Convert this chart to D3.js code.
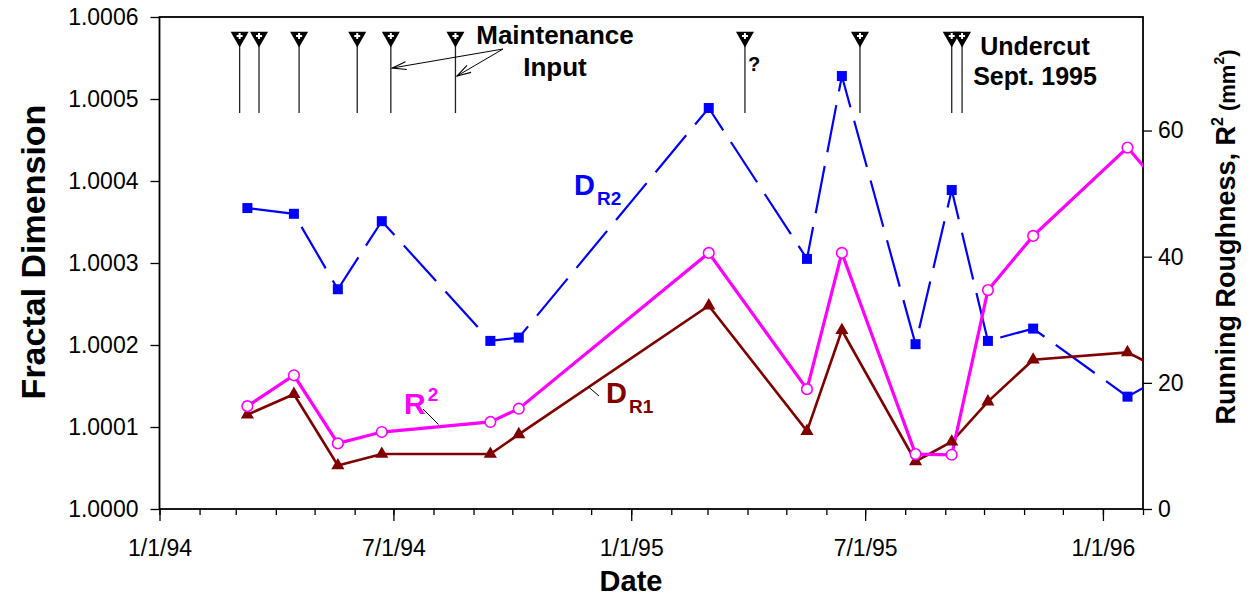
<!DOCTYPE html>
<html>
<head>
<meta charset="utf-8">
<script src="https://cdn.jsdelivr.net/npm/d3@7"></script>
<style>
  html, body { margin: 0; padding: 0; background: #fff; }
  svg { display: block; }
  text { font-family: "Liberation Sans", Arial, Helvetica, sans-serif; }
</style>
</head>
<body>
<svg id="chart" width="1251" height="601"></svg>
<script>
// ---- Data -----------------------------------------------------------
// Survey dates (the last one lies just past the plotted range and is clipped)
const sampleDates = [
  "1994-03-10", "1994-04-15", "1994-05-19", "1994-06-22", "1994-09-14", "1994-10-06",
  "1995-03-02", "1995-05-17", "1995-06-13", "1995-08-09", "1995-09-06", "1995-10-04",
  "1995-11-08", "1996-01-20", "1996-02-15"
];
// Fractal dimension from R2 method (left axis)
const dR2 = [
  1.000367, 1.000360, 1.000268, 1.000351, 1.000205, 1.000209,
  1.000489, 1.000305, 1.000528, 1.000201, 1.000389, 1.000205,
  1.000220, 1.000137, 1.000160
];
// Fractal dimension from R1 method (left axis)
const dR1 = [
  1.000115, 1.000140, 1.000053, 1.000067, 1.000067, 1.000091,
  1.000248, 1.000095, 1.000218, 1.000058, 1.000082, 1.000131,
  1.000182, 1.000191, 1.000170
];
// Running roughness R^2 in mm^2 (right axis)
const roughness = [
  16.3, 21.2, 10.4, 12.2, 13.8, 15.9,
  40.6, 19.0, 40.6, 8.7, 8.6, 34.7,
  43.3, 57.3, 51.1
];
// Maintenance events (index 6 is uncertain)
const maintenanceDates = [
  "1994-03-04", "1994-03-19", "1994-04-19", "1994-06-03", "1994-06-29", "1994-08-18",
  "1995-03-30", "1995-06-27", "1995-09-06", "1995-09-14"
];
const uncertainMaintenance = [6];
// Axis ticks
const xTickDates = ["1994-01-01", "1994-07-01", "1995-01-01", "1995-07-01", "1996-01-01"];
const xTickLabels = ["1/1/94", "7/1/94", "1/1/95", "7/1/95", "1/1/96"];
const leftTicks = [1.0000, 1.0001, 1.0002, 1.0003, 1.0004, 1.0005, 1.0006];
const leftTickLabels = ["1.0000", "1.0001", "1.0002", "1.0003", "1.0004", "1.0005", "1.0006"];
const rightTicks = [0, 20, 40, 60];

// ---- Layout ---------------------------------------------------------
const plot = { left: 159.5, right: 1143, top: 17, bottom: 509 };
const parse = d3.utcParse("%Y-%m-%d");

const svg = d3.select("#chart");

const x = d3.scaleUtc()
  .domain([parse("1994-01-01"), parse("1996-02-01")])
  .range([plot.left, plot.right]);
const yL = d3.scaleLinear().domain([1.0, 1.0006]).range([plot.bottom, plot.top]);
const yR = d3.scaleLinear().domain([0, 78]).range([plot.bottom, plot.top]);

const rows = sampleDates.map((d, i) => ({
  date: parse(d), dR2: dR2[i], dR1: dR1[i], r2: roughness[i]
}));

const defs = svg.append("defs");
defs.append("clipPath").attr("id", "plotClip")
  .append("rect")
  .attr("x", plot.left).attr("y", plot.top)
  .attr("width", plot.right - plot.left).attr("height", plot.bottom - plot.top);

// arrowhead for the annotation pointers
defs.append("marker")
  .attr("id", "openArrow")
  .attr("viewBox", "0 0 16 10")
  .attr("refX", 15).attr("refY", 5)
  .attr("markerWidth", 16).attr("markerHeight", 10)
  .attr("markerUnits", "userSpaceOnUse")
  .attr("orient", "auto")
  .append("path")
  .attr("d", "M1,1 L15,5 L1,9")
  .attr("fill", "none").attr("stroke", "#000").attr("stroke-width", 1.1);

// ---- Axes -----------------------------------------------------------
const tickFont = 23;
const styleAxis = g => {
  g.select(".domain").remove();
  g.selectAll("line").attr("stroke", "#000").attr("stroke-width", 1.3);
  g.selectAll("text").attr("font-size", tickFont).attr("fill", "#000")
    .attr("font-family", "'Liberation Sans', Arial, sans-serif");
};

// minor monthly ticks
svg.append("g")
  .attr("transform", `translate(0,${plot.bottom})`)
  .call(d3.axisBottom(x).ticks(d3.utcMonth.every(1)).tickSize(6).tickFormat(""))
  .call(styleAxis);

// major ticks with labels
svg.append("g")
  .attr("transform", `translate(0,${plot.bottom})`)
  .call(d3.axisBottom(x).tickValues(xTickDates.map(parse)).tickSize(12).tickPadding(19)
    .tickFormat((d, i) => xTickLabels[i]))
  .call(styleAxis);

svg.append("g")
  .attr("transform", `translate(${plot.left},0)`)
  .call(d3.axisLeft(yL).tickValues(leftTicks).tickSize(9).tickPadding(12)
    .tickFormat((d, i) => leftTickLabels[i]))
  .call(styleAxis);

svg.append("g")
  .attr("transform", `translate(${plot.right},0)`)
  .call(d3.axisRight(yR).tickValues(rightTicks).tickSize(9).tickPadding(6))
  .call(styleAxis);

// frame
svg.append("rect")
  .attr("x", plot.left).attr("y", plot.top)
  .attr("width", plot.right - plot.left).attr("height", plot.bottom - plot.top)
  .attr("fill", "none").attr("stroke", "#000").attr("stroke-width", 1.8);

// axis titles
svg.append("text")
  .attr("transform", `translate(45,252) rotate(-90)`)
  .attr("text-anchor", "middle")
  .attr("font-size", 34).attr("font-weight", "bold")
  .text("Fractal Dimension");

const rTitle = svg.append("text")
  .attr("transform", `translate(1235,237) rotate(-90)`)
  .attr("text-anchor", "middle")
  .attr("font-weight", "bold").attr("font-size", 27);
rTitle.append("tspan").text("Running Roughness, R");
rTitle.append("tspan").attr("font-size", 16).attr("dy", -12).text("2");
rTitle.append("tspan").attr("font-size", 22).attr("dy", 12).text(" (mm");
rTitle.append("tspan").attr("font-size", 14).attr("dy", -11).text("2");
rTitle.append("tspan").attr("font-size", 22).attr("dy", 11).text(")");

svg.append("text")
  .attr("x", 631).attr("y", 591)
  .attr("text-anchor", "middle")
  .attr("font-size", 29).attr("font-weight", "bold")
  .text("Date");

// ---- Maintenance markers ------------------------------------------
const maint = svg.append("g");
const triSym = d3.symbol().type(d3.symbolTriangle).size(140);
maintenanceDates.forEach((d, i) => {
  const mx = x(parse(d));
  const g = maint.append("g");
  g.append("line")
    .attr("x1", mx).attr("x2", mx).attr("y1", 44).attr("y2", 113)
    .attr("stroke", "#222").attr("stroke-width", 1.3);
  g.append("path")
    .attr("d", triSym())
    .attr("transform", `translate(${mx},37) rotate(180)`)
    .attr("fill", "#000");
  g.append("path")
    .attr("d", d3.symbol().type(d3.symbolCross).size(20)())
    .attr("transform", `translate(${mx},36)`)
    .attr("fill", "#fff");
  if (uncertainMaintenance.includes(i)) {
    g.append("text")
      .attr("x", mx + 3).attr("y", 71)
      .attr("font-size", 20).attr("font-weight", "bold")
      .text("?");
  }
});

// "Maintenance Input" note with pointers
svg.append("text")
  .attr("x", 555).attr("y", 44)
  .attr("text-anchor", "middle").attr("font-size", 26).attr("font-weight", "bold")
  .text("Maintenance");
svg.append("text")
  .attr("x", 555).attr("y", 76)
  .attr("text-anchor", "middle").attr("font-size", 26).attr("font-weight", "bold")
  .text("Input");
const arrowFrom = [503, 49];
[[maintenanceDates[4], 68], [maintenanceDates[5], 76]].forEach(([d, ty]) => {
  svg.append("line")
    .attr("x1", arrowFrom[0]).attr("y1", arrowFrom[1])
    .attr("x2", x(parse(d)) + 1.5).attr("y2", ty)
    .attr("stroke", "#000").attr("stroke-width", 1)
    .attr("marker-end", "url(#openArrow)");
});

svg.append("text")
  .attr("x", 1035).attr("y", 55)
  .attr("text-anchor", "middle").attr("font-size", 25).attr("font-weight", "bold")
  .text("Undercut");
svg.append("text")
  .attr("x", 1035).attr("y", 85)
  .attr("text-anchor", "middle").attr("font-size", 25).attr("font-weight", "bold")
  .text("Sept. 1995");

// ---- Series ---------------------------------------------------------
const series = svg.append("g").attr("clip-path", "url(#plotClip)");

const lineR2 = d3.line().x(d => x(d.date)).y(d => yL(d.dR2));
const lineR1 = d3.line().x(d => x(d.date)).y(d => yL(d.dR1));
const lineRough = d3.line().x(d => x(d.date)).y(d => yR(d.r2));

const blue = "#0000ff", magenta = "#ff00ff", maroon = "#800000";

series.append("path").datum(rows).attr("d", lineR2)
  .attr("fill", "none").attr("stroke", blue).attr("stroke-width", 2.2)
  .attr("stroke-dasharray", "48,14");
series.append("path").datum(rows).attr("d", lineR1)
  .attr("fill", "none").attr("stroke", maroon).attr("stroke-width", 2.6);
series.append("path").datum(rows).attr("d", lineRough)
  .attr("fill", "none").attr("stroke", magenta).attr("stroke-width", 3.2);

// markers
series.selectAll(".sq").data(rows).join("rect")
  .attr("x", d => x(d.date) - 5).attr("y", d => yL(d.dR2) - 5)
  .attr("width", 10).attr("height", 10).attr("fill", blue);

const tri = d3.symbol().type(d3.symbolTriangle).size(75);
series.selectAll(".tri").data(rows).join("path")
  .attr("d", tri())
  .attr("transform", d => `translate(${x(d.date)},${yL(d.dR1)})`)
  .attr("fill", maroon);

series.selectAll(".circ").data(rows).join("circle")
  .attr("cx", d => x(d.date)).attr("cy", d => yR(d.r2)).attr("r", 5.3)
  .attr("fill", "#fff").attr("stroke", magenta).attr("stroke-width", 1.6);

// ---- Series labels --------------------------------------------------
const lblR2 = svg.append("text").attr("x", 574).attr("y", 195)
  .attr("fill", blue).attr("font-weight", "bold").attr("font-size", 29);
lblR2.append("tspan").text("D");
lblR2.append("tspan").attr("font-size", 19).attr("dy", 10).attr("dx", 2).text("R2");

const lblRough = svg.append("text").attr("x", 404).attr("y", 414)
  .attr("fill", magenta).attr("font-weight", "bold").attr("font-size", 30);
lblRough.append("tspan").text("R");
lblRough.append("tspan").attr("font-size", 19).attr("dy", -13).attr("dx", 2).text("2");
svg.append("line").attr("x1", 423).attr("y1", 409).attr("x2", 438.5).attr("y2", 424.5)
  .attr("stroke", "#000").attr("stroke-width", 1);

const lblR1 = svg.append("text").attr("x", 606).attr("y", 403)
  .attr("fill", maroon).attr("font-weight", "bold").attr("font-size", 29);
lblR1.append("tspan").text("D");
lblR1.append("tspan").attr("font-size", 19).attr("dy", 10).attr("dx", 2).text("R1");
svg.append("line").attr("x1", 588).attr("y1", 386.5).attr("x2", 599).attr("y2", 396)
  .attr("stroke", "#000").attr("stroke-width", 1);
</script>
</body>
</html>
